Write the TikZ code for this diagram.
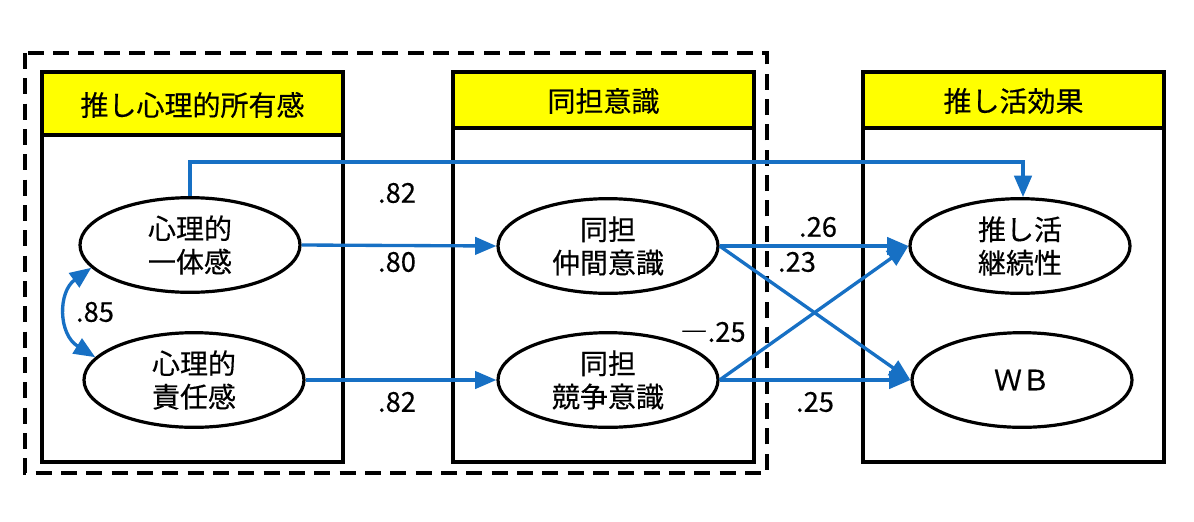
\documentclass[tikz,border=0pt]{standalone}
\usepackage{fontspec}
\setmainfont{Noto Sans CJK JP}[FakeBold=0.35]
\usetikzlibrary{arrows.meta,shapes.geometric}
\definecolor{arrblue}{RGB}{23,112,196}
\definecolor{hdryellow}{RGB}{255,255,0}
\tikzset{
  px/.style={x=0.75pt,y=-0.75pt},
  box/.style={draw=black,line width=2.4pt},
  hdr/.style={draw=black,line width=2.4pt,fill=hdryellow},
  hdrtext/.style={font=\fontsize{21pt}{24pt}\selectfont},
  ell/.style={draw=black,line width=2.4pt,fill=white,ellipse,minimum width=165pt,minimum height=71pt,inner sep=0pt,align=center,font=\fontsize{21pt}{25pt}\selectfont},
  conn/.style={draw=arrblue,line width=2.5pt,-{Triangle[length=16pt,width=13pt]}},
  coef/.style={font=\fontsize{20.5pt}{24pt}\selectfont,inner sep=0pt},
  grp/.style={draw=black,line width=2.4pt,dash pattern=on 12pt off 7pt}
}
\begin{document}
\begin{tikzpicture}[px]
\useasboundingbox (0,0) rectangle (1194,521);
% dashed group
\draw[grp] (25,53) rectangle (767,473);
% boxes
\draw[box,fill=white] (42,72) rectangle (343,462);
\draw[hdr] (42,72) rectangle (343,135);
\node[hdrtext] (h1) at (192.5,105) {推し心理的所有感};
\draw[box,fill=white] (453,72) rectangle (754,462);
\draw[hdr] (453,72) rectangle (754,128);
\node[hdrtext] (h2) at (603.5,101) {同担意識};
\draw[box,fill=white] (863,72) rectangle (1164,462);
\draw[hdr] (863,72) rectangle (1164,128);
\node[hdrtext] (h3) at (1013.5,101) {推し活効果};
% ellipses
\node[ell] (a1) at (190,245) {心理的\\一体感};
\node[ell] (a2) at (194,380) {心理的\\責任感};
\node[ell] (b1) at (608,246) {同担\\仲間意識};
\node[ell] (b2) at (608,380) {同担\\競争意識};
\node[ell] (c1) at (1020,246) {推し活\\継続性};
\node[ell] (c2) at (1022,380) {ＷＢ};
% connectors
\coordinate (t1) at (190,162);
\coordinate (t2) at (1023,162);
\draw[conn] (a1.north) -- (t1) -- (t2) -- (c1.north -| t2);
\draw[conn] (a1.east) -- (b1.west);
\draw[conn] (a2.east) -- (b2.west);
\draw[conn] (b1.east) -- (c1.west);
\draw[conn] (b1.east) -- (c2.west);
\draw[conn] (b2.east) -- (c1.west);
\draw[conn] (b2.east) -- (c2.west);
\draw[draw=arrblue,line width=2.5pt,{Triangle[length=16pt,width=13pt]}-{Triangle[length=16pt,width=13pt]}]
  (a1.193) .. controls (58,292) and (58,334) .. (a2.167);
% coefficients
\node[coef] (k1) at (397,193) {.82};
\node[coef] (k2) at (397,262) {.80};
\node[coef] (k3) at (397,402) {.82};
\node[coef] (k4) at (95,312) {.85};
\node[coef] (k5) at (713,332) {―.25};
\node[coef] (k6) at (818,227) {.26};
\node[coef] (k7) at (797,262) {.23};
\node[coef] (k8) at (815,402) {.25};
\end{tikzpicture}
\end{document}
